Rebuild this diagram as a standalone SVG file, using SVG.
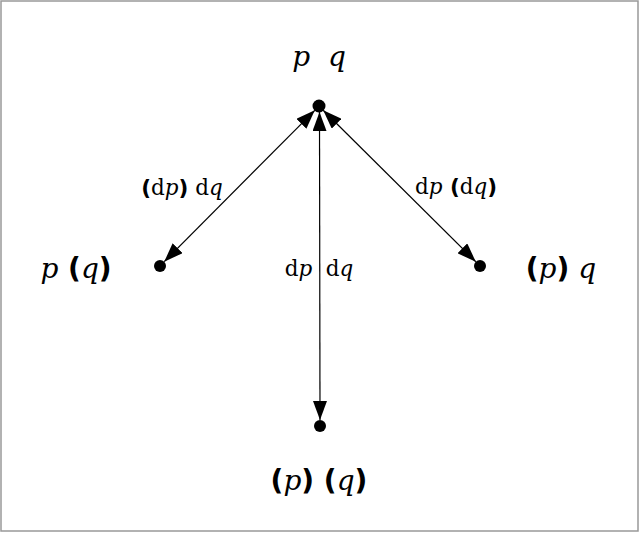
<svg xmlns="http://www.w3.org/2000/svg" width="640" height="533" viewBox="0 0 640 533">
<style>
.v{font-family:"DejaVu Serif","Liberation Serif",serif;font-style:italic}
.d{font-family:"DejaVu Serif","Liberation Serif",serif}
.pp{font-family:"DejaVu Sans","Liberation Sans",sans-serif;font-weight:bold}
.node{font-size:28px}
.lbl{font-size:21.5px}
.edge{stroke:#000;stroke-width:1.2;fill:none;marker-start:url(#ah);marker-end:url(#ah)}
</style>
<defs>
<marker id="ah" viewBox="0 0 19 14" refX="19" refY="7" markerWidth="19" markerHeight="14" markerUnits="userSpaceOnUse" orient="auto-start-reverse">
<path d="M0,0 L19,7 L0,14 z" fill="#000"/>
</marker>
</defs>
<rect x="1" y="1" width="637" height="530" fill="#fff" stroke="#999" stroke-width="1.5"/>
<g id="connectors">
<line class="edge" x1="314.8" y1="110.3" x2="164.2" y2="261.7"/>
<line class="edge" x1="319.5" y1="112" x2="320" y2="420"/>
<line class="edge" x1="323.2" y1="110.3" x2="475.8" y2="261.7"/>
<text class="lbl" x="182" y="195" text-anchor="middle"><tspan class="pp">(</tspan><tspan class="d">d</tspan><tspan class="v">p</tspan><tspan class="pp">)</tspan><tspan class="d"> d</tspan><tspan class="v">q</tspan></text>
<text class="lbl" x="319" y="276" text-anchor="middle" xml:space="preserve"><tspan class="d">d</tspan><tspan class="v">p</tspan><tspan class="d">  d</tspan><tspan class="v">q</tspan></text>
<text class="lbl" x="456" y="194" text-anchor="middle"><tspan class="d">d</tspan><tspan class="v">p</tspan><tspan class="pp"> (</tspan><tspan class="d">d</tspan><tspan class="v">q</tspan><tspan class="pp">)</tspan></text>
</g>
<g id="n-pq">
<circle cx="319" cy="106" r="6.5"/>
<text class="node v" x="319" y="66" text-anchor="middle" xml:space="preserve">p  q</text>
</g>
<g id="n-p-nq">
<circle cx="160" cy="266" r="6"/>
<text class="node" x="76" y="278" text-anchor="middle"><tspan class="v">p</tspan><tspan class="pp"> (</tspan><tspan class="v">q</tspan><tspan class="pp">)</tspan></text>
</g>
<g id="n-np-q">
<circle cx="480" cy="266" r="6"/>
<text class="node" x="561" y="278" text-anchor="middle"><tspan class="pp">(</tspan><tspan class="v">p</tspan><tspan class="pp">)</tspan><tspan class="v"> q</tspan></text>
</g>
<g id="n-np-nq">
<circle cx="320" cy="426" r="6"/>
<text class="node" x="319" y="490" text-anchor="middle"><tspan class="pp">(</tspan><tspan class="v">p</tspan><tspan class="pp">) (</tspan><tspan class="v">q</tspan><tspan class="pp">)</tspan></text>
</g>
</svg>
